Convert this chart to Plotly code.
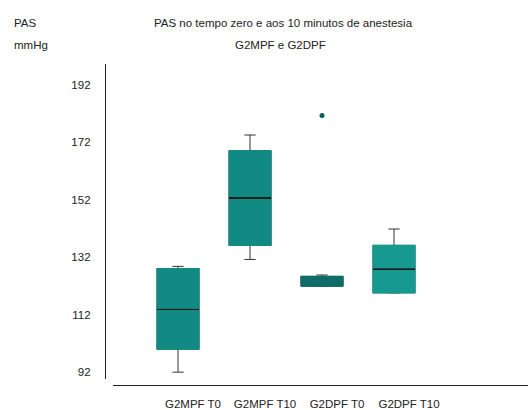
import plotly.graph_objects as go

categories = ["G2MPF T0", "G2MPF T10", "G2DPF T0", "G2DPF T10"]
lower_whisker = [92, 131.2, 122, 119.6]
q1 = [100, 136.1, 122, 119.6]
median = [113.8, 152.6, 122, 127.8]
q3 = [128, 169, 125.3, 136.1]
upper_whisker = [128.8, 174.5, 125.8, 141.8]
outlier_cat = ["G2DPF T0"]
outlier_val = [181.3]
y_ticks = [92, 112, 132, 152, 172, 192]

box_colors = ["#108a82", "#108a82", "#0e6d66", "#169a8f"]
median_colors = ["#111111", "#111111", "#0e6d66", "#111111"]
whisker_color = "#333333"
FONT = "Liberation Sans, Arial, sans-serif"

W, H = 528, 410
ML, MR, MT, MB = 105, 0, 64, 22
PW, PH = W - ML - MR, H - MT - MB

fig = go.Figure()
# whiskers + caps (dark)
for i, c in enumerate(categories):
    fig.add_trace(go.Box(
        x=[c], q1=[q1[i]], median=[median[i]], q3=[q3[i]],
        lowerfence=[lower_whisker[i]], upperfence=[upper_whisker[i]],
        fillcolor=box_colors[i], line=dict(color=whisker_color, width=1),
        whiskerwidth=0.27, boxpoints=False, showlegend=False, hoverinfo="skip"))
# box body (covers dark outline)
for i, c in enumerate(categories):
    fig.add_trace(go.Box(
        x=[c], q1=[q1[i]], median=[q1[i]], q3=[q3[i]],
        lowerfence=[q1[i]], upperfence=[q3[i]],
        fillcolor=box_colors[i], line=dict(color=box_colors[i], width=1.2),
        whiskerwidth=0, boxpoints=False, showlegend=False, hoverinfo="skip"))
# median lines
for i, c in enumerate(categories):
    fig.add_trace(go.Box(
        x=[c], q1=[median[i]], median=[median[i]], q3=[median[i]],
        lowerfence=[median[i]], upperfence=[median[i]],
        fillcolor=median_colors[i], line=dict(color=median_colors[i], width=1),
        whiskerwidth=0, boxpoints=False, showlegend=False, hoverinfo="skip"))
# outliers
fig.add_trace(go.Scatter(x=outlier_cat, y=outlier_val, mode="markers",
                         marker=dict(color="#0d5e58", size=5),
                         showlegend=False, hoverinfo="skip"))

def px(x):
    return (x - ML) / PW

def py(y):
    return (H - MB - y) / PH

annots = [
    ("PAS", 12, 23, "left"),
    ("mmHg", 12, 45, "left"),
    ("PAS no tempo zero e aos 10 minutos de anestesia", 283, 23, "center"),
    ("G2MPF e G2DPF", 280, 45, "center"),
]
for text, x, y, anchor in annots:
    fig.add_annotation(text=text, x=px(x), y=py(y), xref="paper", yref="paper",
                       xanchor=anchor, yanchor="middle", showarrow=False,
                       font=dict(family=FONT, size=11.5, color="#222222"))

fig.update_layout(
    width=W, height=H, margin=dict(l=ML, r=MR, t=MT, b=MB),
    paper_bgcolor="white", plot_bgcolor="white",
    boxmode="overlay", boxgap=0.417, boxgroupgap=0,
    font=dict(family=FONT, size=11.5, color="#222222"),
    xaxis=dict(domain=[(113 - ML) / PW, 1], anchor="free", position=0,
               range=[-0.903, 4.861], categoryorder="array", categoryarray=categories,
               showline=True, linecolor="#222222", linewidth=1.3,
               showgrid=False, zeroline=False, ticks="",
               ticklabelshift=15, ticklabelstandoff=8),
    yaxis=dict(domain=[6 / PH, 1], anchor="free", position=0,
               range=[89.6, 199.2], tickvals=y_ticks,
               showline=True, linecolor="#222222", linewidth=1.3,
               showgrid=False, zeroline=False, ticks="",
               ticklabelstandoff=12),
)

fig.write_html("out.html")
